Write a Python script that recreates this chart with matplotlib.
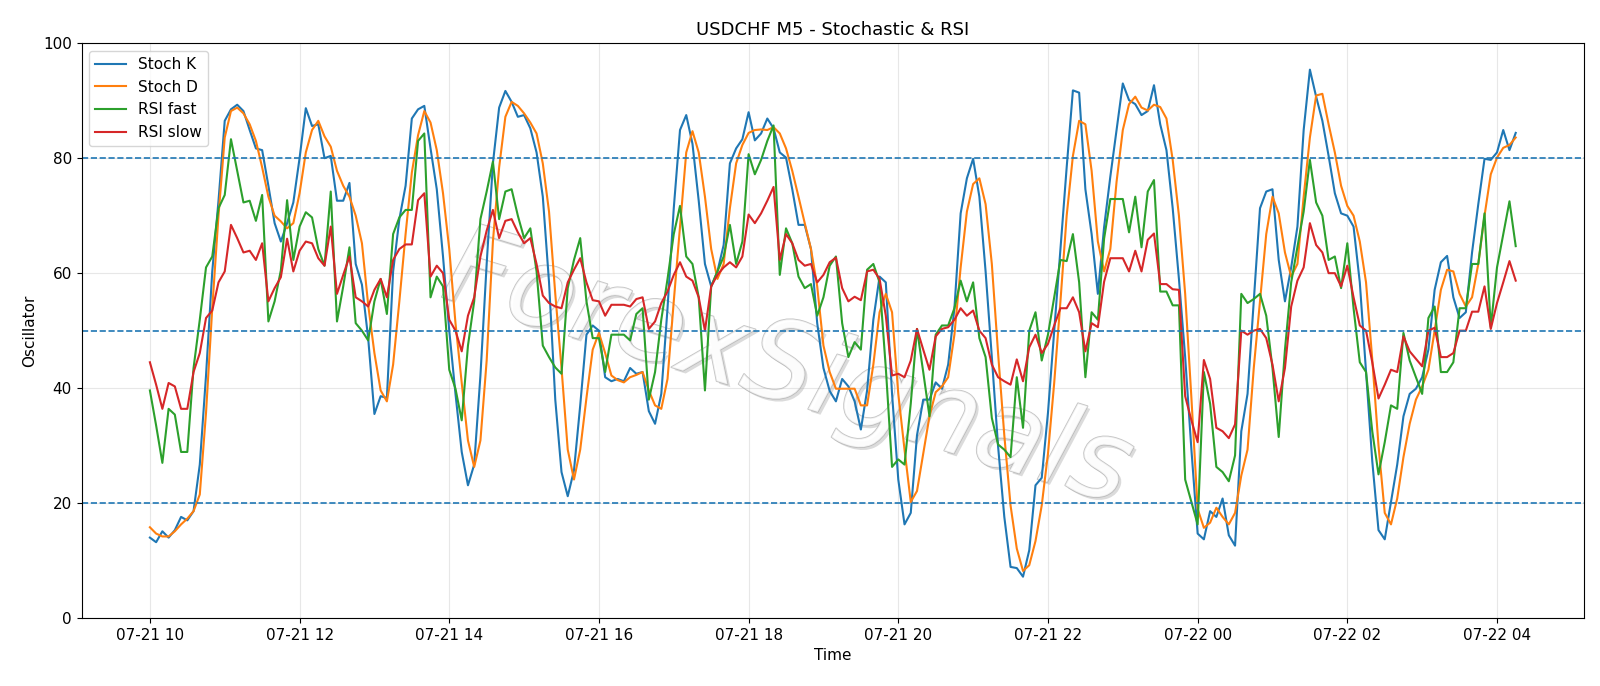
import numpy as np
import pandas as pd
import matplotlib
matplotlib.use("Agg")
import matplotlib.pyplot as plt
import matplotlib.dates as mdates
import matplotlib.patheffects as pe

# 5 minute bars, 07-21 10:00 -> 07-22 04:15
times = pd.date_range("2025-07-21 10:00", periods=220, freq="5min")

stoch_k = [
    14.0, 13.2, 15.1, 14.0, 15.3, 17.6, 17.0, 18.6, 26.7, 42.2, 60.3, 72.6, 86.5, 88.5, 89.3, 88.2, 84.9, 81.7, 81.4, 75.2, 68.7, 65.5,
    68.7, 72.3, 80, 88.7, 85.6, 85.9, 80, 80.4, 72.6, 72.6, 75.7, 61.6, 58, 48.7, 35.5, 38.6, 38.3, 60.3, 69.4, 75.2, 86.9, 88.5,
    89.1, 81.7, 74.6, 62.9, 50, 39, 28.9, 23.1, 26.7, 42.2, 61.6, 79.1, 88.8, 91.7, 89.8, 87.2, 87.5, 85.2, 81, 73.3, 58.4, 38,
    25.4, 21.2, 25.7, 37, 49.3, 50.9, 50, 41.9, 41.2, 41.6, 41.2, 43.5, 42.5, 42.8, 36, 33.8, 39, 53.9, 71.3, 84.9, 87.5, 82.5,
    72.6, 61.6, 57.7, 60.3, 64.9, 79.1, 81.7, 83.3, 88, 83.1, 84.3, 86.9, 85.2, 81, 80.1, 74.6, 68.4, 68.4, 64.2, 51.3, 43.5, 39.5,
    37.7, 41.6, 40.3, 37.7, 32.8, 39.6, 51.9, 59.4, 58.4, 39, 24.1, 16.3, 18.3, 31.8, 38, 38, 41, 39.9, 44.1, 53.9, 70.4, 76.5,
    79.9, 73.3, 60.3, 45.4, 29.9, 17.6, 8.9, 8.7, 7.2, 11.8, 23.1, 24.4, 35.7, 50, 64.2, 78.4, 91.8, 91.4, 74.6, 66.8, 56.4, 68,
    76.8, 84.9, 93, 90.1, 89.4, 87.5, 88.2, 92.7, 85.9, 81.4, 71.3, 59, 45.4, 29.3, 14.7, 13.7, 18.6, 17.6, 20.8, 14.4, 12.6, 32.5,
    39, 55.1, 71.3, 74.2, 74.6, 62.3, 55.1, 61, 68.1, 84.9, 95.4, 90.7, 86.5, 80.4, 73.9, 70.4, 70, 68.1, 58.4, 42.8, 27.3, 15.3,
    13.7, 20.2, 26.7, 35.1, 39, 39.9, 41.9, 46.7, 57.1, 61.9, 63, 55.8, 52.2, 53.2, 63.6, 72, 79.9, 79.7, 81, 84.9, 81.4, 84.4,
]

stoch_d = [
    15.8, 14.7, 14.2, 14.2, 15.1, 16.3, 17.3, 18.6, 21.5, 35.7, 53.9, 70, 83.6, 88.2, 88.8, 87.8, 85.9, 83, 78.4, 73.3, 70, 69,
    67.8, 68.7, 73.9, 81, 84.9, 86.5, 83.8, 82, 77.8, 75.2, 73.3, 70, 65.2, 54.5, 46.1, 39.6, 37.7, 44.1, 55.1, 66.8, 77.5, 84,
    88.2, 86.2, 81.4, 73.9, 64.2, 51.3, 40.9, 30.9, 26.3, 30.9, 44.8, 65.5, 78.4, 87.2, 89.8, 89.1, 87.8, 86.2, 84.3, 79.1, 70.7, 56.4,
    43.5, 29.3, 24.1, 29.3, 38.3, 46.7, 49.6, 46.1, 42.2, 41.4, 41, 41.9, 42.3, 42.8, 39.6, 37, 36.4, 41.6, 55.1, 68.1, 81, 84.7,
    81, 73.3, 64.2, 59, 61.6, 71.3, 79.1, 82.3, 84.4, 84.9, 85, 84.9, 85.4, 84.3, 81.7, 77.8, 73.3, 68.7, 64.2, 57.7, 47.4, 42.8,
    39.9, 39.9, 39.9, 39.9, 37, 37, 44.1, 53.2, 56.4, 53.2, 39, 29.3, 20.2, 22.1, 28.6, 35.1, 39.3, 40.3, 41.9, 49.3, 61, 70.7,
    75.5, 76.5, 72, 61.6, 46.1, 31.8, 19.6, 12.1, 8.2, 9.2, 13.4, 19.6, 28.6, 40.9, 55.1, 70, 80.4, 86.5, 85.9, 77.8, 65.5, 60.3,
    64.2, 75.9, 84.9, 89.4, 90.7, 88.8, 88.3, 89.3, 88.9, 86.9, 79.7, 70, 56.4, 38.3, 19, 15.7, 16.6, 19.2, 17.6, 16.3, 18.3, 24.8,
    29.3, 43.5, 55.1, 66.8, 73.3, 70.4, 63.6, 59.4, 61.6, 73.3, 83.6, 90.9, 91.2, 85.9, 81, 75.2, 71.7, 70, 65.5, 58.4, 45, 30,
    18.3, 16.3, 20.8, 28, 33.8, 38, 40.3, 43.2, 50, 57.1, 60.6, 60.3, 56.4, 54.2, 55.8, 61.6, 70, 77.2, 80.1, 81.8, 82.3, 83.6,
]

rsi_fast = [
    39.6, 33.5, 27, 36.4, 35.4, 28.9, 28.9, 43.5, 51.9, 61, 62.9, 71.3, 73.6, 83.3, 77.8, 72.3, 72.6, 69.1, 73.6, 51.6, 55.1, 60.5,
    72.7, 62.3, 68.1, 70.6, 69.7, 64.2, 61.3, 74.2, 51.6, 57.7, 64.5, 51.3, 50, 48.3, 55.1, 59, 52.9, 66.8, 69.7, 71, 71, 83,
    84.3, 55.8, 59.4, 57.7, 43.2, 39.9, 34.4, 47.4, 55.1, 69.4, 74.2, 79.4, 69.4, 74.2, 74.6, 70, 66.1, 67.8, 60.3, 47.4, 45.4, 43.6,
    42.5, 57.4, 62.3, 66.1, 55.1, 48.7, 48.7, 42.8, 49.3, 49.3, 49.3, 48.3, 52.9, 53.9, 38, 42.8, 51.9, 59, 66.8, 71.7, 62.9, 61.6,
    55.8, 39.6, 57.7, 60.3, 62.9, 68.4, 61.6, 65.5, 80.7, 77.2, 79.7, 83, 85.7, 59.7, 67.8, 65.2, 59.4, 57.4, 58.1, 52.6, 55.8, 61.3,
    62.9, 51.3, 45.4, 48, 46.7, 60.6, 61.6, 58.4, 43.5, 26.3, 27.6, 26.7, 37.3, 50.3, 42.8, 35.1, 49.3, 50.9, 50.9, 53.9, 58.7, 55.1,
    58.4, 48.7, 45.4, 34.8, 30.2, 29.3, 28, 41.9, 33.1, 50, 53.2, 44.8, 49.3, 55.8, 62.3, 62.1, 66.8, 58.4, 41.9, 53.2, 51.9, 66,
    72.9, 72.9, 72.9, 67.1, 73.3, 64.5, 74.2, 76.2, 56.8, 56.8, 54.4, 54.4, 24.1, 20.2, 16.3, 42.8, 37.3, 26.3, 25.4, 23.8, 28.3, 56.4,
    54.8, 55.5, 56.4, 52.6, 43.5, 31.5, 46.7, 58.4, 64.5, 70.7, 79.7, 72.3, 70, 62.3, 62.9, 57.4, 65.2, 53.9, 44.5, 42.8, 32.5, 25,
    30.6, 37, 36.4, 49.6, 44.8, 41.9, 39, 52.2, 54.2, 42.8, 42.8, 44.5, 53.9, 53.9, 61.6, 61.6, 70.4, 50.6, 61, 66.8, 72.5, 64.7,
]

rsi_slow = [
    44.5, 40.6, 36.4, 40.9, 40.3, 36.4, 36.4, 42.8, 46.1, 52.2, 53.5, 58.4, 60.3, 68.4, 66.1, 63.6, 63.9, 62.3, 65.2, 55.1, 57.4, 59.3,
    66, 60.3, 63.9, 65.5, 65.2, 62.6, 61.3, 68.1, 56.4, 59.7, 62.9, 55.8, 55.1, 54.2, 57.1, 59, 55.8, 62.3, 64.2, 65, 65, 72.7,
    73.9, 59.4, 61.3, 60, 51.9, 50, 46.4, 52.6, 55.8, 62.9, 67.4, 71, 66.1, 69.1, 69.4, 67.1, 65.2, 66.1, 61.6, 56.1, 54.8, 54.2,
    53.9, 58.4, 60.6, 62.6, 58.4, 55.3, 55.1, 52.6, 54.5, 54.5, 54.5, 54.2, 55.5, 55.8, 50.3, 51.6, 54.8, 56.8, 59.7, 61.9, 59.4, 58.7,
    55.8, 50, 57.7, 59.7, 61, 61.9, 61, 62.9, 70.2, 68.7, 70.4, 72.6, 75, 62.3, 66.8, 65.2, 62.3, 61.3, 61.6, 58.4, 59.7, 61.9,
    62.7, 57.4, 55.1, 55.9, 55.3, 60.3, 60.6, 59, 52.6, 42.2, 42.5, 41.9, 44.8, 50.3, 46.7, 43.2, 49, 50.3, 50.6, 51.9, 53.9, 52.6,
    53.5, 50, 48.7, 44.1, 41.9, 41.2, 40.6, 45, 41.2, 47.1, 49.3, 46.1, 47.7, 50.9, 53.9, 53.9, 55.8, 53.2, 46.4, 51.3, 50.6, 58.5,
    62.6, 62.6, 62.6, 60.3, 63.9, 60.3, 65.8, 66.9, 58.1, 58.1, 57.2, 57.1, 38.6, 34.4, 30.6, 44.9, 41.6, 33.1, 32.5, 31.3, 33.7, 50,
    49.3, 50, 50.3, 48.7, 44.1, 37.7, 43.5, 54.2, 58.7, 61, 68.7, 64.9, 63.6, 60, 60, 57.7, 61.3, 55.8, 50.9, 50, 44.5, 38.2,
    40.6, 43.2, 42.8, 49, 46.4, 45.1, 43.8, 50, 50.5, 45.4, 45.4, 46.1, 50, 50, 53.3, 53.3, 57.7, 50.3, 54.8, 58.4, 62.1, 58.7,
]

levels = [20, 50, 80]

fig = plt.figure(figsize=(16, 6.86), dpi=100)
ax = fig.add_axes([0.051, 0.099, 0.939, 0.838])

ax.plot(times, stoch_k, label="Stoch K", lw=1.5)
ax.plot(times, stoch_d, label="Stoch D", lw=1.5)
ax.plot(times, rsi_fast, label="RSI fast", lw=1.5)
ax.plot(times, rsi_slow, label="RSI slow", lw=1.5)

for lv in levels:
    ax.axhline(lv, color="C0", linestyle="--", lw=1.2)

ax.set_ylim(0, 100)
ax.grid(True, alpha=0.3)
ax.xaxis.set_major_locator(mdates.HourLocator(byhour=range(0, 24, 2)))
ax.xaxis.set_major_formatter(mdates.DateFormatter("%m-%d %H"))
ax.set_title("USDCHF M5 - Stochastic & RSI", fontsize=13)
ax.set_xlabel("Time", fontsize=11)
ax.set_ylabel("Oscillator", fontsize=11)
ax.tick_params(labelsize=11)
ax.legend(loc="upper left", fontsize=11)

# watermark
ax.text(0.47, 0.43, "ForexSignals", transform=ax.transAxes, fontsize=80,
        color="white", alpha=0.75, rotation=-17, ha="center", va="center",
        fontstyle="italic", zorder=0.5,
        path_effects=[pe.SimplePatchShadow(offset=(2, -2), alpha=0.2),
                      pe.withStroke(linewidth=1.2, foreground="#b0b0b0")])

fig.savefig("out.png", dpi=100)
